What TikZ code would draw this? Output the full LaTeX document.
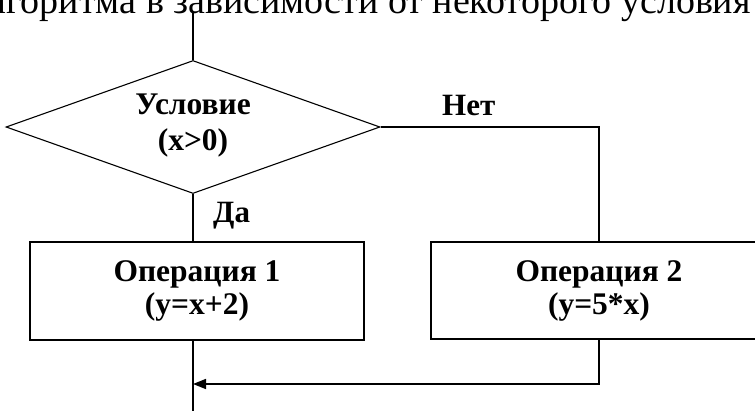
\documentclass[tikz,border=0pt]{standalone}
\usepackage{fontspec}
\setmainfont{Liberation Serif}
\usetikzlibrary{shapes.geometric,arrows.meta}

\begin{document}
\begin{tikzpicture}[x=1pt,y=-1pt,
  flow/.style={line width=1.1pt},
  cond/.style={diamond,draw,line width=1.1pt,minimum width=374pt,minimum height=133pt,
    inner sep=0pt},
  boldtext/.style={inner sep=0pt,align=center,font=\fontsize{31.5}{36}\selectfont\bfseries},
  opbox/.style={rectangle,draw,line width=1.1pt,inner sep=0pt,align=center,
    font=\fontsize{31.5}{33}\selectfont\bfseries},
  lbl/.style={inner sep=0pt,anchor=base west,font=\fontsize{31}{34}\selectfont\bfseries},
  tip/.style={-{Triangle[length=13pt,width=10pt]}}]
\useasboundingbox (0,0) rectangle (755,410);
\clip (0,0) rectangle (755,410);

% caption line above, partly cut by the page edge
\node[inner sep=0pt,anchor=base east,font=\fontsize{38}{42}\selectfont] (caption) at (751,13)
  {алгоритма в зависимости от некоторого условия};

% blocks
\coordinate (entry) at (193,12);
\node[cond] (test) at (193,127) {};
\node[boldtext] (testtext) at ([yshift=1pt]test.center) {Условие\\(x>0)};
\node[opbox,minimum width=334pt,minimum height=98pt] (op1) at (197,291)
  {Операция 1\\(y=x+2)};
\node[opbox,minimum width=336pt,minimum height=97pt] (op2) at (599,290.5)
  {Операция 2\\(y=5*x)};
\coordinate (turn) at (599,127);
\coordinate (back) at (599,384);
\coordinate (merge) at (193,384);
\coordinate (exit) at (193,412);

% connectors
\draw[flow] (entry) -- (test.north);
\draw[flow] (test.south) -- (test.south |- op1.north);
\draw[flow] (test.east) -- (turn) -- (op2.north);
\draw[flow] (op1.south -| merge) -- (exit);
\draw[flow,line width=1.6pt,tip] (op2.south) -- (back) -- (merge);

% branch labels
\node[lbl] (yes) at (213,222) {Да};
\node[lbl] (no) at (442,115) {Нет};
\end{tikzpicture}
\end{document}
